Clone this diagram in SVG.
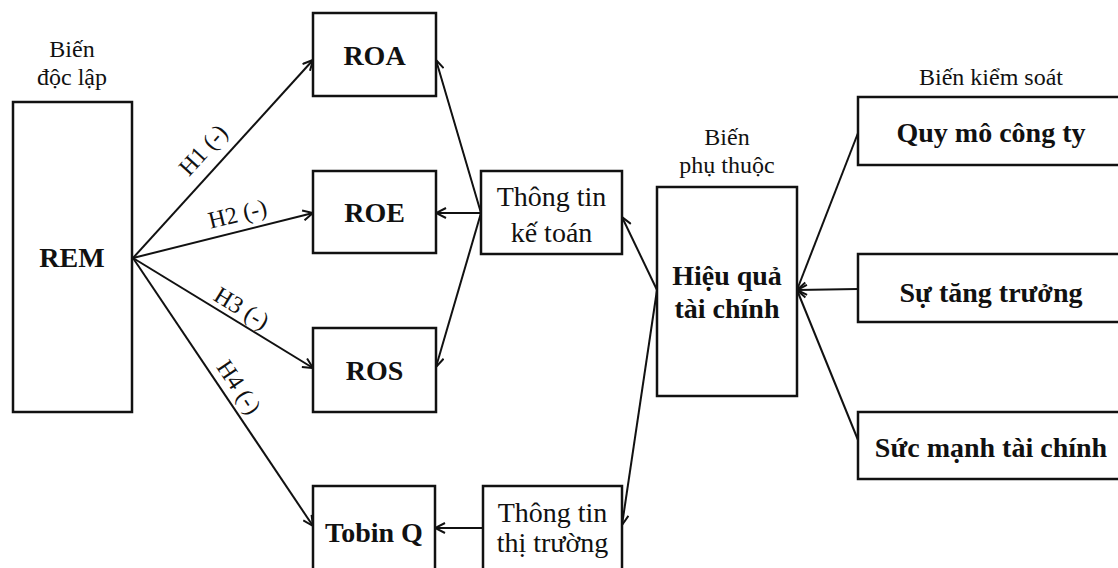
<svg xmlns="http://www.w3.org/2000/svg" width="1118" height="568" viewBox="0 0 1118 568">
<defs>
<style>
.box{fill:#fff;stroke:#111;stroke-width:2.5}
.lbl{font-family:"Liberation Serif","Times New Roman",serif;font-size:24px;fill:#111;text-anchor:middle}
.reg{font-family:"Liberation Serif","Times New Roman",serif;font-size:28px;fill:#111;text-anchor:middle}
.bold{font-family:"Liberation Serif","Times New Roman",serif;font-size:28px;font-weight:bold;fill:#111;text-anchor:middle}
.con{stroke:#111;stroke-width:2;fill:none;marker-end:url(#arr)}
</style>
<marker id="arr" viewBox="0 0 12 12" refX="11" refY="6" markerWidth="12" markerHeight="12" markerUnits="userSpaceOnUse" orient="auto">
<path d="M1,1 L11,6 L1,11" fill="none" stroke="#111" stroke-width="2"/>
</marker>
</defs>
<rect width="1118" height="568" fill="#fff"/>

<g id="connectors">
<line class="con" x1="133" y1="258" x2="313" y2="60"/>
<line class="con" x1="133" y1="258" x2="313" y2="213"/>
<line class="con" x1="133" y1="258" x2="313" y2="368"/>
<line class="con" x1="133" y1="258" x2="313" y2="526"/>
<line class="con" x1="481" y1="213" x2="436" y2="60"/>
<line class="con" x1="481" y1="213" x2="436" y2="213"/>
<line class="con" x1="481" y1="213" x2="436" y2="367"/>
<line class="con" x1="483" y1="528" x2="435" y2="528"/>
<line class="con" x1="657" y1="290" x2="622" y2="217"/>
<line class="con" x1="657" y1="290" x2="622" y2="525"/>
<line class="con" x1="858" y1="133" x2="797" y2="290"/>
<line class="con" x1="858" y1="289" x2="797" y2="290"/>
<line class="con" x1="858" y1="440" x2="797" y2="290"/>
<text class="lbl" transform="translate(203,150) rotate(-47.6)" y="8">H1 (-)</text>
<text class="lbl" transform="translate(237.5,214) rotate(-13.8)" y="8">H2 (-)</text>
<text class="lbl" transform="translate(241.7,308) rotate(31.4)" y="8">H3 (-)</text>
<text class="lbl" transform="translate(239,387) rotate(56)" y="8">H4 (-)</text>
</g>

<g id="label-doc-lap">
<text class="lbl" x="72" y="57">Biến</text>
<text class="lbl" x="72" y="85">độc lập</text>
</g>
<g id="rem">
<rect class="box" x="13" y="102" width="119" height="310"/>
<text class="bold" x="72" y="267">REM</text>
</g>
<g id="roa">
<rect class="box" x="313" y="13" width="123" height="83"/>
<text class="bold" x="374.5" y="65">ROA</text>
</g>
<g id="roe">
<rect class="box" x="313" y="171" width="123" height="82"/>
<text class="bold" x="374.5" y="222">ROE</text>
</g>
<g id="ros">
<rect class="box" x="313" y="328" width="123" height="84"/>
<text class="bold" x="374.5" y="380">ROS</text>
</g>
<g id="tobin">
<rect class="box" x="313" y="486" width="122" height="90"/>
<text class="bold" x="374" y="542">Tobin Q</text>
</g>
<g id="thong-tin-ke-toan">
<rect class="box" x="481" y="171" width="141" height="83"/>
<text class="reg" x="551.5" y="206">Thông tin</text>
<text class="reg" x="551.5" y="242">kế toán</text>
</g>
<g id="thong-tin-thi-truong">
<rect class="box" x="483" y="486" width="139" height="90"/>
<text class="reg" x="552.5" y="522">Thông tin</text>
<text class="reg" x="552.5" y="552">thị trường</text>
</g>
<g id="label-phu-thuoc">
<text class="lbl" x="727" y="145">Biến</text>
<text class="lbl" x="727" y="173">phụ thuộc</text>
</g>
<g id="hieu-qua">
<rect class="box" x="657" y="187" width="140" height="209"/>
<text class="bold" x="727" y="285">Hiệu quả</text>
<text class="bold" x="727" y="318">tài chính</text>
</g>
<g id="label-kiem-soat">
<text class="lbl" x="991" y="85">Biến kiểm soát</text>
</g>
<g id="quy-mo">
<rect class="box" x="858" y="97" width="268" height="68"/>
<text class="bold" x="991" y="142">Quy mô công ty</text>
</g>
<g id="tang-truong">
<rect class="box" x="858" y="254" width="268" height="68"/>
<text class="bold" x="991" y="302">Sự tăng trưởng</text>
</g>
<g id="suc-manh">
<rect class="box" x="858" y="412" width="268" height="67"/>
<text class="bold" x="991" y="457">Sức mạnh tài chính</text>
</g>
</svg>
